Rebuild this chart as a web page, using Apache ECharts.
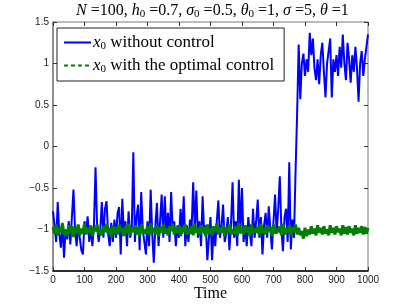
<!DOCTYPE html>
<html><head><meta charset="utf-8">
<script src="https://cdn.jsdelivr.net/npm/echarts@6/dist/echarts.min.js"></script>
<style>html,body{margin:0;padding:0;background:#fff}#c{width:407px;height:306px}</style>
</head><body><div id="c"></div>
<script>
const xTicks = [0,100,200,300,400,500,600,700,800,900,1000];
const yTicks = [-1.5,-1,-0.5,0,0.5,1,1.5];
const timeStep = 5;
const blueValues = [
-0.78,-0.95,-1.15,-0.67,-1.05,-1.22,-0.92,-1.34,-1.00,-1.12,
-0.90,-1.18,-0.85,-0.52,-1.00,-1.20,-0.95,-1.10,-1.25,-1.30,
-0.90,-1.05,-0.84,-1.15,-1.00,-1.20,-0.95,-0.25,-0.95,-1.15,
-1.00,-0.67,-1.10,-0.75,-0.66,-1.05,-1.20,-0.92,-1.15,-0.88,
-1.10,-0.80,-0.73,-1.30,-0.63,-1.05,-0.90,-1.20,-0.78,-1.10,
-1.00,-0.07,-1.15,-0.85,-0.70,-1.25,-0.55,-1.00,-1.15,-1.30,
-0.90,-1.20,-0.52,-1.05,-1.40,-0.95,-0.68,-1.20,-0.90,-0.58,
-1.10,-0.60,-1.05,-0.80,-1.15,-0.55,-1.00,-0.90,-1.20,-0.95,
-1.10,-0.75,-1.05,-0.60,-1.20,-0.95,-1.15,-0.88,-1.00,-0.43,
-1.00,-0.53,-1.10,-0.90,-1.20,-0.60,-1.05,-0.95,-1.37,-1.10,
-0.85,-1.37,-1.00,-1.20,-0.90,-0.65,-1.10,-0.95,-0.70,-1.15,
-1.05,-0.85,-1.25,-0.95,-0.43,-1.10,-0.90,-1.20,-0.40,-1.05,
-0.50,-1.15,-0.95,-1.20,-0.85,-1.05,-1.20,-0.75,-1.10,-0.90,
-0.64,-1.10,-0.85,-1.30,-0.95,-0.80,-1.10,-0.72,-1.00,-1.24,
-0.90,-0.58,-1.05,-0.75,-0.36,-1.00,-1.26,-0.85,-0.75,-1.15,
-0.19,-1.24,-0.88,-1.10,-0.30,0.40,1.23,0.57,1.00,1.12,
0.85,1.05,0.90,1.37,1.10,1.30,0.95,0.80,1.05,0.75,
1.10,1.25,0.90,0.59,1.00,1.15,1.30,0.59,1.05,0.90,
1.10,0.85,1.20,0.95,1.35,1.00,0.80,1.25,1.05,0.77,
1.10,0.90,1.20,0.95,0.54,1.00,1.15,0.85,1.05,1.20,
1.35];
const greenValues = [
-0.97,-1.05,-0.94,-1.07,-0.98,-1.03,-0.93,-1.06,-1.00,-1.08,
-0.95,-1.04,-0.96,-1.09,-0.97,-1.03,-0.94,-1.07,-0.99,-1.05,
-0.93,-1.06,-0.98,-1.04,-0.95,-1.08,-0.97,-1.02,-0.94,-1.06,
-1.00,-1.07,-0.96,-1.03,-0.93,-1.05,-0.98,-1.09,-0.95,-1.04,
-0.97,-1.06,-0.94,-1.02,-0.99,-1.08,-0.96,-1.04,-0.93,-1.07,
-0.98,-1.03,-0.95,-1.06,-0.97,-1.09,-0.94,-1.04,-1.00,-1.05,
-0.96,-1.07,-0.93,-1.03,-0.98,-1.06,-0.95,-1.08,-0.97,-1.04,
-0.94,-1.05,-0.99,-1.07,-0.96,-1.02,-0.93,-1.06,-0.98,-1.04,
-0.95,-1.08,-0.97,-1.03,-0.94,-1.06,-1.00,-1.05,-0.96,-1.07,
-0.93,-1.04,-0.98,-1.06,-0.95,-1.03,-0.97,-1.08,-0.94,-1.05,
-0.99,-1.07,-0.96,-1.02,-0.93,-1.06,-0.98,-1.04,-0.95,-1.08,
-0.97,-1.03,-0.94,-1.06,-1.00,-1.05,-0.96,-1.07,-0.93,-1.04,
-0.98,-1.06,-0.95,-1.03,-0.97,-1.08,-0.94,-1.05,-0.99,-1.04,
-0.96,-1.07,-0.93,-1.04,-0.98,-1.06,-0.95,-1.02,-0.97,-1.08,
-0.94,-1.05,-0.99,-1.03,-0.96,-1.07,-0.93,-1.06,-0.98,-1.04,
-0.95,-1.08,-0.97,-1.03,-0.94,-1.06,
-0.98,-1.07,-1.02,-1.11,-0.98,-1.08,-1.00,-1.06,-0.96,-1.05,
-0.99,-1.07,-0.95,-1.04,-0.98,-1.06,-0.96,-1.05,-1.00,-1.07,
-0.95,-1.04,-0.98,-1.06,-0.96,-1.03,-0.99,-1.07,-0.95,-1.05,
-0.97,-1.06,-0.96,-1.04,-0.99,-1.07,-0.95,-1.05,-0.98,-1.04,
-0.96,-1.06,-0.97,-1.05,-0.98];
const seriesNames = ['x0 without control', 'x0 with the optimal control'];

const pair = vals => vals.map((v, i) => [i * timeStep, v]);
const fmtY = v => (v < 0 ? '\u2212' + Math.abs(v) : String(v));
const serif = '"Liberation Serif", "DejaVu Serif", serif';
const sans = '"Liberation Sans", Arial, sans-serif';
const richSerif = {
  i: { fontFamily: serif, fontStyle: 'italic', fontWeight: 'normal', fontSize: 17, color: '#000' },
  s: { fontFamily: serif, fontWeight: 'normal', fontSize: 11, color: '#000', padding: [8, 0, 0, 0] },
  t: { fontFamily: serif, fontWeight: 'normal', fontSize: 17, color: '#000' }
};
const richTitle = {
  i: { fontFamily: serif, fontStyle: 'italic', fontWeight: 'normal', fontSize: 16, color: '#000' },
  s: { fontFamily: serif, fontWeight: 'normal', fontSize: 11, color: '#000', padding: [7, 0, 0, 0] },
  t: { fontFamily: serif, fontWeight: 'normal', fontSize: 16, color: '#000' }
};

const chart = echarts.init(document.getElementById('c'), null, { renderer: 'canvas' });
const axisCommon = {
  type: 'value', splitLine: { show: false },
  axisTick: { show: true, inside: true, length: 4, lineStyle: { color: '#333' } }
};
chart.setOption({
  animation: false,
  backgroundColor: '#fff',
  title: {
    text: '{i|N}{t| =100, }{i|h}{s|0}{t| =0.7, }{i|σ}{s|0}{t| =0.5, }{i|θ}{s|0}{t| =1, }{i|σ}{t| =5, }{i|θ}{t| =1}',
    left: 76, top: 2, padding: 0,
    textStyle: { rich: richTitle, fontWeight: 'normal' }
  },
  grid: { left: 53, right: 39, top: 22, bottom: 35, show: true, borderColor: '#777', borderWidth: 1,
    outerBoundsMode: 'none', containLabel: false },
  legend: {
    orient: 'vertical', left: 57, top: 28, itemWidth: 27, itemHeight: 12, itemGap: 5,
    padding: [6, 10, 6, 6], borderColor: '#222', borderWidth: 1, backgroundColor: '#fff',
    itemStyle: { opacity: 0 },
    data: [
      { name: seriesNames[0] },
      { name: seriesNames[1], lineStyle: { type: [4, 3], color: '#008000', width: 2 } }
    ],
    formatter: n => n === seriesNames[0]
      ? '{i|x}{s|0}{t| without control}'
      : '{i|x}{s|0}{t| with the optimal control}',
    textStyle: { rich: richSerif, padding: [0, 0, 0, -3] }
  },
  xAxis: [
    Object.assign({}, axisCommon, {
      min: 0, max: 1000, interval: 100, position: 'bottom',
      name: 'Time', nameLocation: 'middle', nameGap: 15, nameMoveOverlap: false,
      nameTextStyle: { fontFamily: serif, fontSize: 16, color: '#000' },
      axisLine: { show: true, onZero: false, lineStyle: { color: '#000', width: 1.5 } },
      axisLabel: { fontFamily: sans, fontSize: 10, color: '#222', margin: 4,
        formatter: v => xTicks.indexOf(v) >= 0 ? String(v) : '' }
    }),
    Object.assign({}, axisCommon, {
      min: 0, max: 1000, interval: 100, position: 'top',
      axisLine: { show: false, onZero: false }, axisLabel: { show: false }
    })
  ],
  yAxis: [
    Object.assign({}, axisCommon, {
      min: -1.5, max: 1.5, interval: 0.5, position: 'left',
      axisLine: { show: true, onZero: false, lineStyle: { color: '#808080', width: 1.5 } },
      axisLabel: { fontFamily: sans, fontSize: 10, color: '#222', margin: 4,
        formatter: v => yTicks.indexOf(v) >= 0 ? fmtY(v) : '' }
    }),
    Object.assign({}, axisCommon, {
      min: -1.5, max: 1.5, interval: 0.5, position: 'right',
      axisLine: { show: false, onZero: false }, axisLabel: { show: false }
    })
  ],
  series: [
    { name: seriesNames[0], type: 'line', data: pair(blueValues), symbol: 'none',
      lineStyle: { color: '#0000ff', width: 2 }, itemStyle: { color: '#0000ff' } },
    { name: seriesNames[1], type: 'line', data: pair(greenValues), symbol: 'none',
      lineStyle: { color: '#008000', width: 3 }, itemStyle: { color: '#008000' } }
  ]
});
</script></body></html>
